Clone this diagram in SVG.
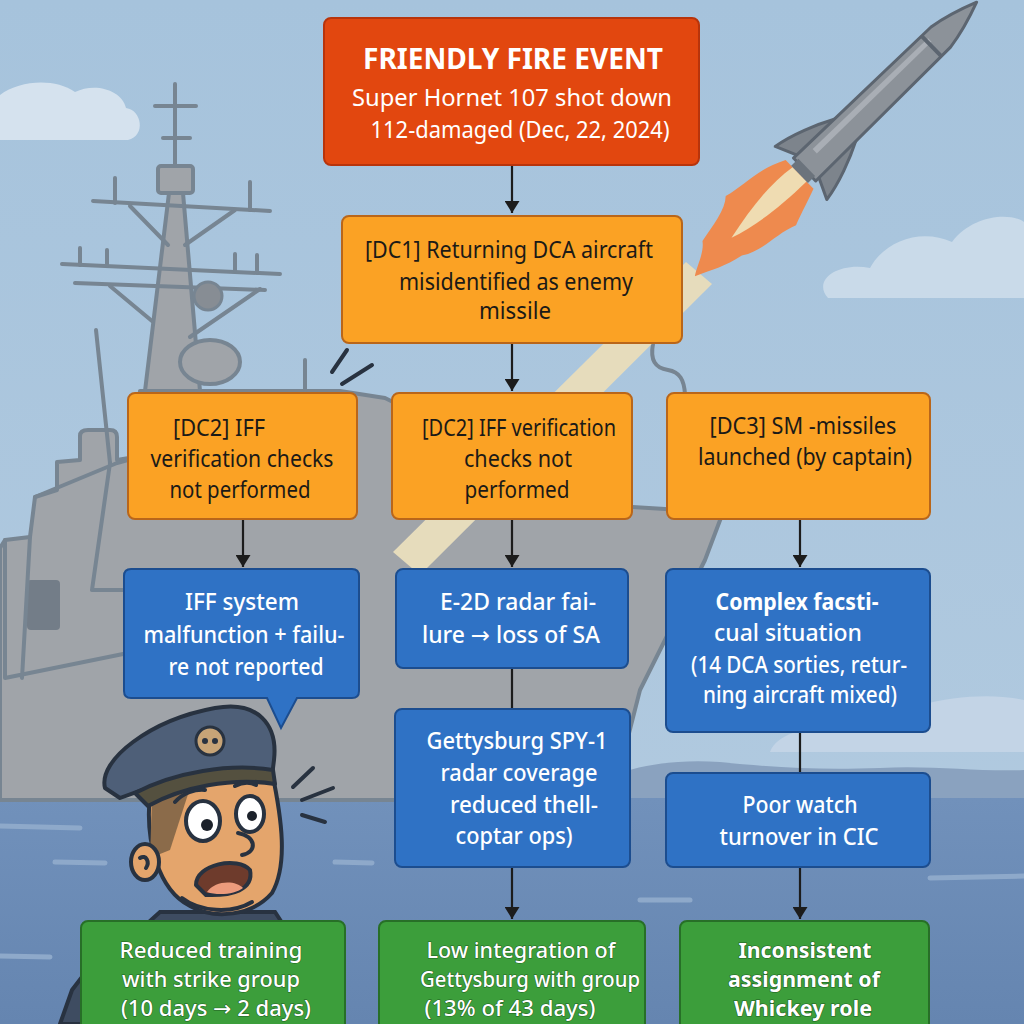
<svg xmlns="http://www.w3.org/2000/svg" width="1024" height="1024" viewBox="0 0 1024 1024">
<defs>
<linearGradient id="sky" x1="0" y1="0" x2="0" y2="1">
<stop offset="0" stop-color="#a6c3dc"/>
<stop offset="1" stop-color="#b3cbe0"/>
</linearGradient>
<linearGradient id="sea" x1="0" y1="0" x2="0" y2="1">
<stop offset="0" stop-color="#7191bb"/>
<stop offset="1" stop-color="#6585b0"/>
</linearGradient>
<marker id="ah" markerUnits="userSpaceOnUse" markerWidth="12" markerHeight="15" refX="12" refY="7.5" orient="auto" viewBox="0 0 12 15">
<path d="M0,0 L12,7.5 L0,15 Z" fill="#1c1c1c"/>
</marker>
<style>
.red{fill:#e2470f;stroke:#b8340b;stroke-width:2}
.org{fill:#fba224;stroke:#b9661a;stroke-width:2}
.blu{fill:#2f72c5;stroke:#1c4d8f;stroke-width:2}
.grn{fill:#3c9e3b;stroke:#276f27;stroke-width:2}
text{font-family:"Noto Sans","Liberation Sans",sans-serif;text-anchor:middle}
.ar{font-family:"DejaVu Sans",sans-serif}
.tw{fill:#ffffff;font-size:28px;font-weight:700}
.ts{fill:#ffffff;font-size:24px}
.ot{fill:#1b1a17;font-size:23px}
.bt{fill:#ffffff;font-size:23px;font-weight:500}
.bb{fill:#ffffff;font-size:23px;font-weight:700}
.gt{fill:#ffffff;font-size:21px;font-weight:500;stroke:#1f5e1f;stroke-width:1;paint-order:stroke}
.gb{fill:#ffffff;font-size:21px;font-weight:700;stroke:#1f5e1f;stroke-width:1.2;paint-order:stroke}
.conn{stroke:#1c1c1c;stroke-width:2.2;fill:none}
.shp{fill:#a0a4a9;stroke:#778592;stroke-width:4;stroke-linejoin:round}
.sl{stroke:#778592;stroke-width:4;fill:none;stroke-linecap:round;stroke-linejoin:round}
.ol{stroke:#283240;stroke-width:4;stroke-linecap:round;stroke-linejoin:round}
</style>
</defs>

<!-- background -->
<rect width="1024" height="1024" fill="url(#sky)"/>
<path d="M0,140 L0,95 C20,80 55,78 75,92 C95,82 122,90 126,108 C142,110 146,136 128,140 Z" fill="#d5e2ee"/>
<path d="M828,298 C812,280 838,262 870,268 C885,240 922,228 952,242 C972,215 1010,212 1024,222 L1024,298 Z" fill="#c9dae9"/>
<path d="M770,752 C780,725 840,722 870,732 C900,700 980,690 1024,700 L1024,752 Z" fill="#c3d4e6"/>
<path d="M560,800 C610,770 660,758 720,762 C780,768 820,770 880,768 C930,765 980,772 1024,770 L1024,805 L560,805 Z" fill="#8aa2bf"/>
<rect x="0" y="798" width="1024" height="226" fill="url(#sea)"/>
<g stroke="#8ea9ca" stroke-width="5" stroke-linecap="round">
<line x1="0" y1="826" x2="80" y2="828"/>
<line x1="55" y1="862" x2="105" y2="863"/>
<line x1="0" y1="956" x2="50" y2="957"/>
<line x1="335" y1="862" x2="372" y2="863"/>
<line x1="930" y1="878" x2="1024" y2="876"/>
<line x1="640" y1="900" x2="690" y2="900"/>
</g>

<!-- ship -->
<path class="shp" d="M0,800 L0,548 L5,540 L30,537 L35,497 L57,490 L57,462 L80,460 L80,436 Q80,430 88,430 L110,430 Q117,430 117,437 L117,460 L135,457 L140,391 L340,391 L385,398 L600,505 L665,509 L722,515 L705,560 L640,690 L612,800 Z"/>
<path class="shp" d="M169,193 L183,193 L200,391 L145,391 Z"/>
<line class="sl" x1="175" y1="84" x2="175" y2="166"/>
<line class="sl" x1="155" y1="106" x2="196" y2="106"/>
<line class="sl" x1="163" y1="138" x2="190" y2="138"/>
<rect x="158" y="166" width="35" height="27" rx="3" class="shp"/>
<line class="sl" x1="93" y1="201" x2="270" y2="211"/>
<line class="sl" x1="115" y1="178" x2="115" y2="203"/>
<line class="sl" x1="250" y1="182" x2="250" y2="210"/>
<line class="sl" x1="130" y1="206" x2="168" y2="245"/>
<line class="sl" x1="235" y1="210" x2="185" y2="245"/>
<line class="sl" x1="62" y1="264" x2="280" y2="274"/>
<line class="sl" x1="75" y1="283" x2="265" y2="290"/>
<line class="sl" x1="80" y1="248" x2="80" y2="265"/>
<line class="sl" x1="107" y1="250" x2="107" y2="266"/>
<line class="sl" x1="235" y1="254" x2="235" y2="271"/>
<line class="sl" x1="257" y1="255" x2="257" y2="273"/>
<line class="sl" x1="110" y1="286" x2="152" y2="321"/>
<line class="sl" x1="260" y1="289" x2="190" y2="337"/>
<circle cx="208" cy="296" r="14" fill="#878d94" stroke="#778592" stroke-width="3"/>
<ellipse cx="210" cy="362" rx="30" ry="22" class="shp"/>
<line class="sl" x1="96" y1="330" x2="110" y2="463"/>
<line class="sl" x1="305" y1="360" x2="305" y2="391"/>
<rect x="27" y="580" width="33" height="50" rx="4" fill="#737d88"/>
<path class="sl" d="M35,497 L117,463 L135,458 M110,463 L92,590 L128,590 M5,540 L5,678 L128,653 M30,537 L22,678"/>
<path class="sl" d="M653,344 C650,360 655,368 668,370 C680,372 684,380 685,394"/>

<!-- missile trail, flame, missile -->
<path d="M686,262 L712,284 L420,575 L393,552 Z" fill="#e6dcbc"/>
<g transform="translate(801,173) rotate(-44.2)">
<path d="M-2,-20 C-30,-34 -50,-30 -70,-36 C-80,-26 -100,-24 -118,-20 C-125,-10 -140,-6 -148,0 C-130,8 -120,14 -100,18 C-80,30 -60,26 -40,34 C-25,28 -12,24 -2,20 Z" fill="#ee8a4e"/>
<path d="M-2,-10 C-30,-14 -60,-10 -95,-2 C-70,6 -40,10 -2,10 Z" fill="#efdcb2"/>
<path d="M10,-15 L0,-37 C20,-34 45,-24 62,-15 Z M10,15 L0,37 C20,34 45,24 62,15 Z" fill="#7d848c" stroke="#5c6570" stroke-width="3" stroke-linejoin="round"/>
<path d="M5,-16 L195,-14 C215,-11 232,-5 245,0 C232,5 215,11 195,14 L5,16 Z" fill="#8c9299" stroke="#5c6570" stroke-width="3" stroke-linejoin="round"/>
<path d="M25,-9 L185,-8 L185,-3 L25,-3 Z" fill="#a9aeb5"/>
<line x1="182" y1="-14" x2="182" y2="14" stroke="#5c6570" stroke-width="4"/>
<rect x="-2" y="-12" width="10" height="24" fill="#6b737c"/>
</g>

<!-- motion lines near ship -->
<path class="ol" d="M332,372 L347,350 M342,384 L372,365" stroke="#55606d" stroke-width="3"/>

<!-- sailor -->
<g id="sailor">
<path d="M60,1024 L72,990 L95,960 L140,930 L160,912 L275,912 L290,935 L290,1024 Z" fill="#3e4c61" stroke="#283240" stroke-width="4"/>
<path d="M150,795 C145,840 158,890 190,906 C215,920 252,916 272,893 C288,865 282,820 272,772 Z" fill="#e4a56c" class="ol"/>
<path d="M152,798 L190,788 L170,850 L150,858 Z" fill="#8b6b4a"/>
<ellipse cx="145" cy="862" rx="14" ry="18" fill="#e4a56c" class="ol"/>
<path d="M140,858 C146,854 150,862 146,868" class="ol" fill="none" stroke-width="3"/>
<path d="M105,788 C98,760 150,720 215,708 C258,700 278,725 274,760 L272,776 C230,768 165,780 120,798 Z" fill="#4e5f78" class="ol"/>
<path d="M135,793 C175,772 230,763 273,770 L275,784 C232,777 182,787 148,806 Z" fill="#54503f" class="ol"/>
<circle cx="210" cy="741" r="14" fill="#c7a477" stroke="#283240" stroke-width="3"/>
<circle cx="205" cy="741" r="3" fill="#283240"/>
<circle cx="215" cy="741" r="3" fill="#283240"/>
<ellipse cx="203" cy="821" rx="17" ry="20" fill="#ffffff" class="ol" stroke-width="3"/>
<circle cx="207" cy="825" r="6" fill="#1c222b"/>
<ellipse cx="250" cy="814" rx="14" ry="18" fill="#ffffff" class="ol" stroke-width="3"/>
<circle cx="252" cy="816" r="5" fill="#1c222b"/>
<path d="M175,802 C183,793 195,789 205,790 M235,786 C243,782 250,782 256,785" class="ol" fill="none"/>
<path d="M238,833 C256,836 258,852 242,855" class="ol" fill="none"/>
<path d="M196,885 C196,864 238,856 250,870 C254,890 232,896 206,895 Z" fill="#6e3b2c" class="ol" stroke-width="3"/>
<path d="M207,892 C215,880 236,880 243,888 C236,894 218,896 207,892 Z" fill="#ec9b7c"/>
<path d="M182,898 C200,912 232,914 252,902" class="ol" fill="none" stroke-width="3"/>
<path d="M293,787 L313,768 M302,800 L333,788 M302,815 L325,822" class="ol" fill="none" stroke-width="4"/>
</g>

<!-- connectors -->
<g id="connectors">
<line class="conn" x1="512" y1="165" x2="512" y2="213" marker-end="url(#ah)"/>
<line class="conn" x1="512" y1="343" x2="512" y2="391" marker-end="url(#ah)"/>
<line class="conn" x1="243" y1="519" x2="243" y2="567" marker-end="url(#ah)"/>
<line class="conn" x1="512" y1="519" x2="512" y2="567" marker-end="url(#ah)"/>
<line class="conn" x1="800" y1="519" x2="800" y2="567" marker-end="url(#ah)"/>
<line class="conn" x1="512" y1="668" x2="512" y2="709"/>
<line class="conn" x1="800" y1="732" x2="800" y2="773"/>
<line class="conn" x1="512" y1="867" x2="512" y2="919" marker-end="url(#ah)"/>
<line class="conn" x1="800" y1="867" x2="800" y2="919" marker-end="url(#ah)"/>
</g>

<!-- nodes -->
<g id="n-event">
<rect class="red" x="324" y="18" width="375" height="147" rx="7"/>
<text class="tw" x="513" y="69" textLength="300" lengthAdjust="spacingAndGlyphs">FRIENDLY FIRE EVENT</text>
<text class="ts" x="512" y="106" textLength="320" lengthAdjust="spacingAndGlyphs">Super Hornet 107 shot down</text>
<text class="ts" x="520" y="138" textLength="299" lengthAdjust="spacingAndGlyphs">112-damaged (Dec, 22, 2024)</text>
</g>
<g id="n-dc1">
<rect class="org" x="342" y="216" width="340" height="127" rx="7"/>
<text class="ot" x="509" y="258" textLength="288" lengthAdjust="spacingAndGlyphs">[DC1] Returning DCA aircraft</text>
<text class="ot" x="516" y="290" textLength="234" lengthAdjust="spacingAndGlyphs">misidentified as enemy</text>
<text class="ot" x="515" y="319" textLength="72" lengthAdjust="spacingAndGlyphs">missile</text>
</g>
<g id="n-dc2a">
<rect class="org" x="128" y="393" width="229" height="126" rx="7"/>
<text class="ot" x="219" y="436" textLength="92" lengthAdjust="spacingAndGlyphs">[DC2] IFF</text>
<text class="ot" x="242" y="467" textLength="183" lengthAdjust="spacingAndGlyphs">verification checks</text>
<text class="ot" x="240" y="498" textLength="141" lengthAdjust="spacingAndGlyphs">not performed</text>
</g>
<g id="n-dc2b">
<rect class="org" x="392" y="393" width="240" height="126" rx="7"/>
<text class="ot" x="519" y="436" textLength="194" lengthAdjust="spacingAndGlyphs">[DC2] IFF verification</text>
<text class="ot" x="518" y="467" textLength="108" lengthAdjust="spacingAndGlyphs">checks not</text>
<text class="ot" x="517" y="498" textLength="105" lengthAdjust="spacingAndGlyphs">performed</text>
</g>
<g id="n-dc3">
<rect class="org" x="667" y="393" width="263" height="126" rx="7"/>
<text class="ot" x="803" y="434" textLength="187" lengthAdjust="spacingAndGlyphs">[DC3] SM -missiles</text>
<text class="ot" x="805" y="465" textLength="214" lengthAdjust="spacingAndGlyphs">launched (by captain)</text>
</g>
<g id="n-iff">
<path class="blu" d="M131,569 L352,569 Q359,569 359,576 L359,691 Q359,698 352,698 L297,698 L281,728 L267,698 L131,698 Q124,698 124,691 L124,576 Q124,569 131,569 Z"/>
<text class="bt" x="242" y="610" textLength="114" lengthAdjust="spacingAndGlyphs">IFF system</text>
<text class="bt" x="244" y="643" textLength="201" lengthAdjust="spacingAndGlyphs">malfunction + failu-</text>
<text class="bt" x="246" y="675" textLength="155" lengthAdjust="spacingAndGlyphs">re not reported</text>
</g>
<g id="n-e2d">
<rect class="blu" x="396" y="569" width="232" height="99" rx="7"/>
<text class="bt" x="518" y="610" textLength="156" lengthAdjust="spacingAndGlyphs">E-2D radar fai-</text>
<text class="bt" x="511" y="643" textLength="178" lengthAdjust="spacingAndGlyphs">lure <tspan class="ar">→</tspan> loss of SA</text>
</g>
<g id="n-complex">
<rect class="blu" x="666" y="569" width="264" height="163" rx="7"/>
<text class="bb" x="797" y="610" textLength="163" lengthAdjust="spacingAndGlyphs">Complex facsti-</text>
<text class="bt" x="788" y="641" textLength="148" lengthAdjust="spacingAndGlyphs">cual situation</text>
<text class="bt" x="799" y="673" textLength="216" lengthAdjust="spacingAndGlyphs">(14 DCA sorties, retur-</text>
<text class="bt" x="800" y="703" textLength="194" lengthAdjust="spacingAndGlyphs">ning aircraft mixed)</text>
</g>
<g id="n-spy1">
<rect class="blu" x="395" y="709" width="235" height="158" rx="7"/>
<text class="bt" x="517" y="749" textLength="181" lengthAdjust="spacingAndGlyphs">Gettysburg SPY-1</text>
<text class="bt" x="519" y="781" textLength="157" lengthAdjust="spacingAndGlyphs">radar coverage</text>
<text class="bt" x="524" y="813" textLength="148" lengthAdjust="spacingAndGlyphs">reduced thell-</text>
<text class="bt" x="514" y="844" textLength="117" lengthAdjust="spacingAndGlyphs">coptar ops)</text>
</g>
<g id="n-watch">
<rect class="blu" x="666" y="773" width="264" height="94" rx="7"/>
<text class="bt" x="800" y="813" textLength="115" lengthAdjust="spacingAndGlyphs">Poor watch</text>
<text class="bt" x="799" y="845" textLength="159" lengthAdjust="spacingAndGlyphs">turnover in CIC</text>
</g>
<g id="n-training">
<rect class="grn" x="81" y="921" width="264" height="120" rx="7"/>
<text class="gt" x="211" y="958" textLength="183" lengthAdjust="spacingAndGlyphs">Reduced training</text>
<text class="gt" x="211" y="987" textLength="178" lengthAdjust="spacingAndGlyphs">with strike group</text>
<text class="gt" x="216" y="1016" textLength="190" lengthAdjust="spacingAndGlyphs">(10 days <tspan class="ar">→</tspan> 2 days)</text>
</g>
<g id="n-integration">
<rect class="grn" x="379" y="921" width="266" height="120" rx="7"/>
<text class="gt" x="521" y="958" textLength="189" lengthAdjust="spacingAndGlyphs">Low integration of</text>
<text class="gt" x="530" y="987" textLength="220" lengthAdjust="spacingAndGlyphs">Gettysburg with group</text>
<text class="gt" x="510" y="1016" textLength="171" lengthAdjust="spacingAndGlyphs">(13% of 43 days)</text>
</g>
<g id="n-whiskey">
<rect class="grn" x="680" y="921" width="249" height="120" rx="7"/>
<text class="gb" x="805" y="958" textLength="133" lengthAdjust="spacingAndGlyphs">Inconsistent</text>
<text class="gb" x="804" y="987" textLength="152" lengthAdjust="spacingAndGlyphs">assignment of</text>
<text class="gb" x="803" y="1016" textLength="138" lengthAdjust="spacingAndGlyphs">Whickey role</text>
</g>
</svg>
